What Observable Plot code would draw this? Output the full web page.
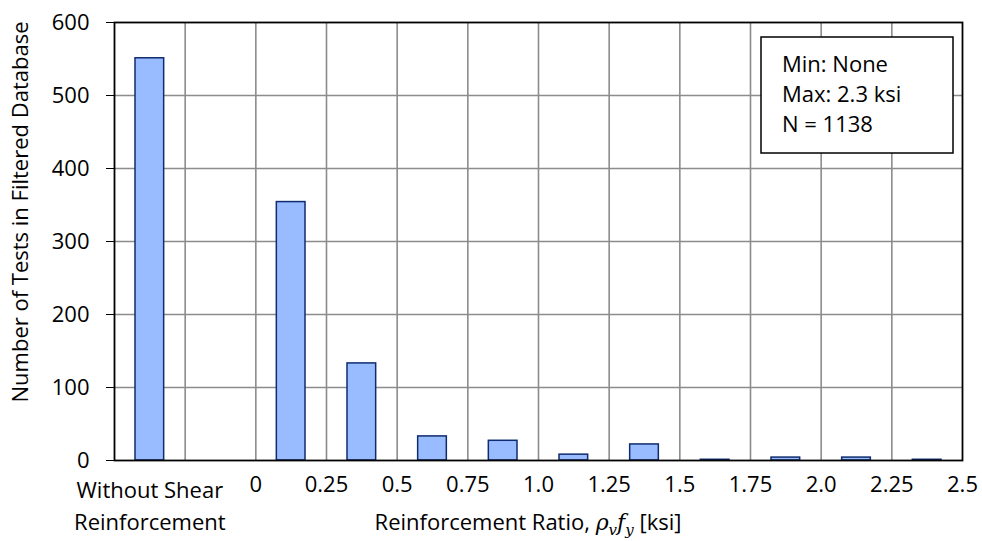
<!DOCTYPE html>
<html>
<head>
<meta charset="utf-8">
<script src="https://cdn.jsdelivr.net/npm/d3@7"></script>
<script src="https://cdn.jsdelivr.net/npm/@observablehq/plot@0.6"></script>
<style>
  html, body { margin: 0; padding: 0; background: white; }
</style>
</head>
<body>
<div id="chart"></div>
<script>
// ---- data ----
const categories = ["Without Shear Reinforcement", "0–0.25", "0.25–0.5", "0.5–0.75", "0.75–1.0",
  "1.0–1.25", "1.25–1.5", "1.5–1.75", "1.75–2.0", "2.0–2.25", "2.25–2.5"];
const binStart = [-0.5, 0, 0.25, 0.5, 0.75, 1.0, 1.25, 1.5, 1.75, 2.0, 2.25];
const binEnd = [-0.25, 0.25, 0.5, 0.75, 1.0, 1.25, 1.5, 1.75, 2.0, 2.25, 2.5];
const counts = [551, 354, 133, 33, 27, 8, 22, 1, 4, 4, 1];
const xTicks = [0, 0.25, 0.5, 0.75, 1.0, 1.25, 1.5, 1.75, 2.0, 2.25, 2.5];
const xTickLabels = ["0", "0.25", "0.5", "0.75", "1.0", "1.25", "1.5", "1.75", "2.0", "2.25", "2.5"];
const xGrid = [-0.25, 0, 0.25, 0.5, 0.75, 1.0, 1.25, 1.5, 1.75, 2.0, 2.25];
const yTicks = [0, 100, 200, 300, 400, 500, 600];
const noShearLabel = "Without Shear\nReinforcement";
const yLabel = "Number of Tests in Filtered Database";
const legendLines = ["Min: None", "Max: 2.3 ksi", "N = 1138"];

const bars = categories.map((c, i) => ({category: c, lo: binStart[i], hi: binEnd[i], count: counts[i]}));

const FONT = "'Open Sans', Lato, sans-serif";
const FS = 22;

const plot = Plot.plot({
  width: 982,
  height: 541,
  marginLeft: 114,
  marginRight: 20,
  marginTop: 22,
  marginBottom: 81,
  style: {fontFamily: FONT, fontSize: FS + "px", color: "black", background: "white", overflow: "visible"},
  x: {domain: [-0.5, 2.5]},
  y: {domain: [0, 600]},
  marks: [
    Plot.ruleX(xGrid, {stroke: "#8c8c8c", strokeWidth: 1.6}),
    Plot.ruleY(yTicks.filter(d => d > 0 && d < 600), {stroke: "#8c8c8c", strokeWidth: 1.6}),
    Plot.rectY(bars, {x1: "lo", x2: "hi", y: "count", fill: "#99bbff", stroke: "#0f2c6e", strokeWidth: 1.5, insetLeft: 21, insetRight: 21}),
    Plot.axisX({ticks: xTicks, tickFormat: d => xTickLabels[xTicks.indexOf(d)], tickSize: 0, tickPadding: 16, label: null, fontSize: FS}),
    Plot.text([{t: noShearLabel, x: (binStart[0] + binEnd[0]) / 2}], {x: "x", y: () => 0, text: "t", frameAnchor: "bottom", lineAnchor: "top", dy: 15, lineHeight: 1.46, fontSize: FS, fill: "black"}),
    Plot.axisY({ticks: yTicks, tickSize: 8, tickPadding: 17, fontSize: FS, label: null}),
    Plot.frame({stroke: "black", strokeWidth: 1.8})
  ]
});

document.getElementById("chart").appendChild(plot);

const svg = d3.select(plot);

// y-axis title
svg.append("text")
  .attr("transform", "translate(28,212) rotate(-90)")
  .attr("text-anchor", "middle")
  .attr("font-family", FONT).attr("font-size", FS).attr("fill", "black")
  .text(yLabel);

// x-axis title with math notation
const xl = svg.append("text")
  .attr("x", 528).attr("y", 530)
  .attr("text-anchor", "middle")
  .attr("font-family", FONT).attr("font-size", FS).attr("fill", "black");
xl.append("tspan").text("Reinforcement Ratio, ");
xl.append("tspan").attr("font-family", "'DejaVu Serif', serif").attr("font-style", "italic").text("ρ");
xl.append("tspan").attr("font-family", "'DejaVu Serif', serif").attr("font-style", "italic").attr("font-size", 15).attr("dy", 5).text("v");
xl.append("tspan").attr("font-family", "'DejaVu Serif', serif").attr("font-style", "italic").attr("dy", -5).text("f");
xl.append("tspan").attr("font-family", "'DejaVu Serif', serif").attr("font-style", "italic").attr("font-size", 15).attr("dy", 5).text("y");
xl.append("tspan").attr("dy", -5).text(" [ksi]");

// legend / annotation box
const lg = svg.append("g").attr("text-anchor", "start");
lg.append("rect").attr("x", 761).attr("y", 37).attr("width", 192).attr("height", 116)
  .attr("fill", "white").attr("stroke", "black").attr("stroke-width", 1.5);
legendLines.forEach((t, i) => {
  lg.append("text").attr("x", 782).attr("y", 72 + i * 30)
    .attr("text-anchor", "start")
    .attr("font-family", FONT).attr("font-size", FS).attr("fill", "black").text(t);
});
</script>
</body>
</html>
